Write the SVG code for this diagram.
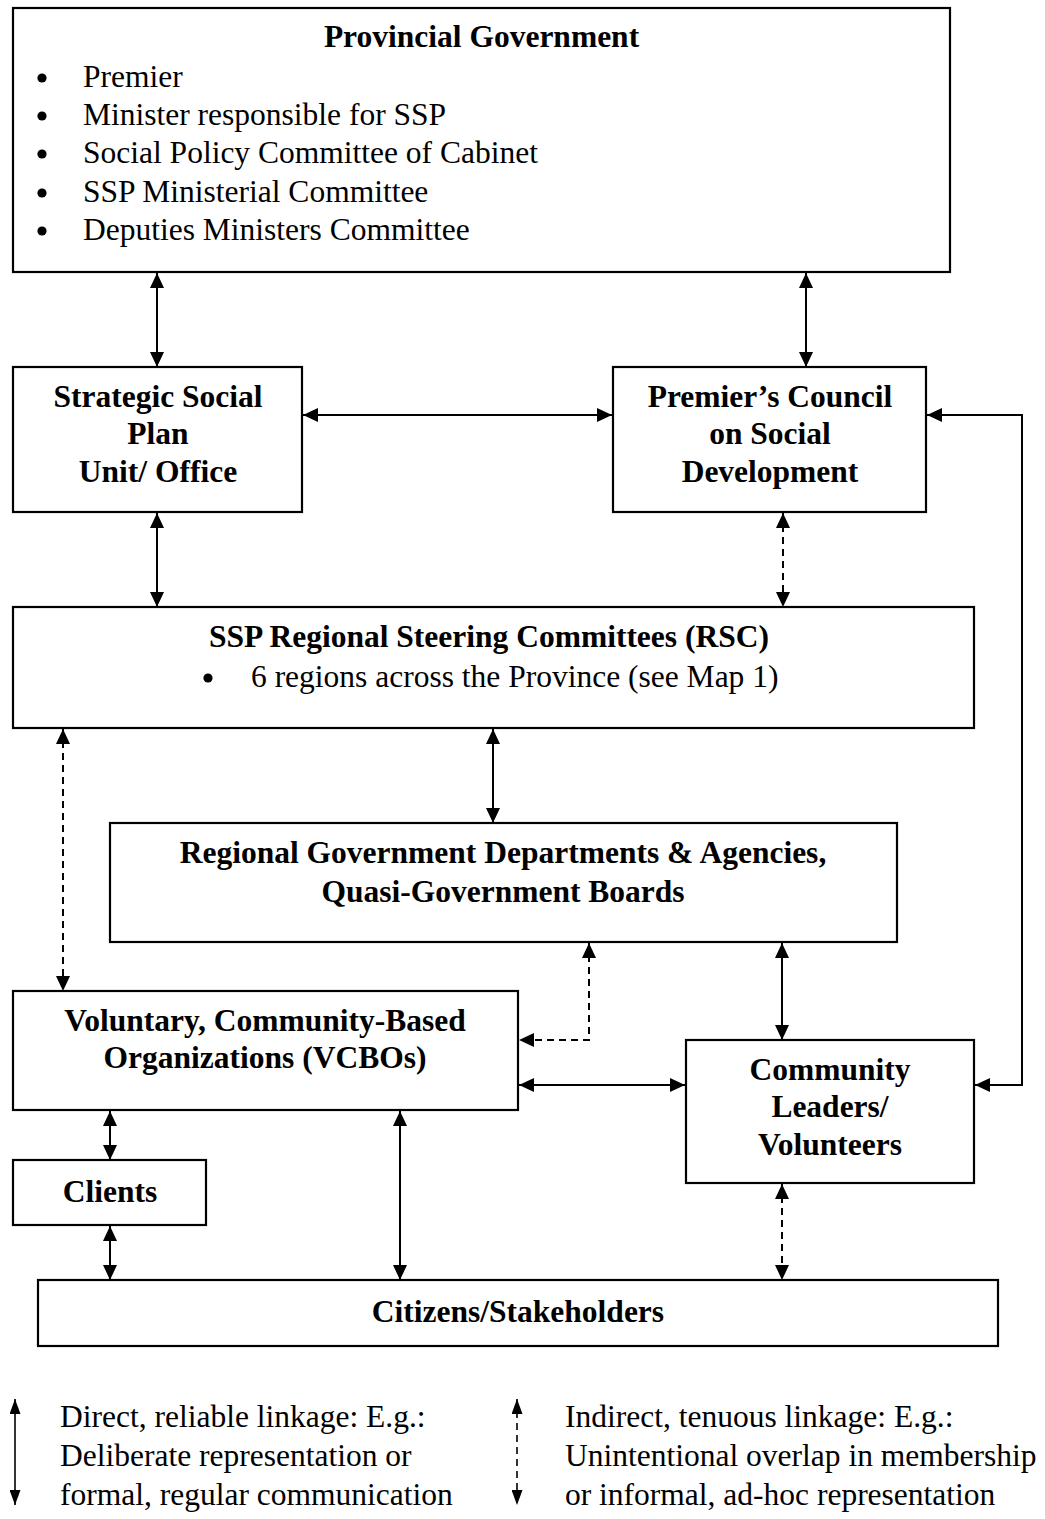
<svg xmlns="http://www.w3.org/2000/svg" width="1045" height="1519" viewBox="0 0 1045 1519">
<style>
.box{fill:#fff;stroke:#000;stroke-width:2.2}
.t{font-family:"Liberation Serif","Times New Roman",serif;font-size:31.5px;fill:#000}
.b{font-weight:bold;text-anchor:middle}
.ln{fill:none;stroke:#000;stroke-width:2;marker-start:url(#ah);marker-end:url(#ah)}
.dash{stroke-dasharray:7 5}
.lg{fill:none;stroke:#000;stroke-width:1.6;marker-start:url(#ahs);marker-end:url(#ahs)}
</style>
<defs>
<marker id="ah" viewBox="0 0 15 14" refX="15" refY="7" markerWidth="15" markerHeight="14" markerUnits="userSpaceOnUse" orient="auto-start-reverse">
<path d="M0,0 L15,7 L0,14 Z" fill="#000" stroke="none"/>
</marker>
<marker id="ahs" viewBox="0 0 15 11" refX="15" refY="5.5" markerWidth="15" markerHeight="11" markerUnits="userSpaceOnUse" orient="auto-start-reverse">
<path d="M0,0 L15,5.5 L0,11 Z" fill="#000" stroke="none"/>
</marker>
</defs>
<rect width="1045" height="1519" fill="#fff"/>

<g id="connectors">
<path class="ln" d="M157,273 V367"/>
<path class="ln" d="M806,273 V367"/>
<path class="ln" d="M303,415 H612"/>
<path class="ln" d="M927,415 H1022 V1085 H975"/>
<path class="ln" d="M157,513 V607"/>
<path class="ln dash" d="M783,513 V607"/>
<path class="ln dash" d="M63,729 V991"/>
<path class="ln" d="M493,729 V823"/>
<path class="ln dash" d="M589,943 V1040 H519"/>
<path class="ln" d="M782,943 V1040"/>
<path class="ln" d="M519,1085 H685"/>
<path class="ln" d="M110,1111 V1160"/>
<path class="ln" d="M110,1226 V1280"/>
<path class="ln" d="M400,1111 V1280"/>
<path class="ln dash" d="M782,1184 V1280"/>
</g>

<g id="provincial-government">
<rect class="box" x="13" y="8" width="937" height="264"/>
<text class="t b" x="481.5" y="47">Provincial Government</text>
<g fill="#000"><circle cx="42" cy="78" r="4.6"/><circle cx="42" cy="116" r="4.6"/><circle cx="42" cy="154" r="4.6"/><circle cx="42" cy="193" r="4.6"/><circle cx="42" cy="231" r="4.6"/></g>
<text class="t" x="83" y="87">Premier</text>
<text class="t" x="83" y="125">Minister responsible for SSP</text>
<text class="t" x="83" y="163">Social Policy Committee of Cabinet</text>
<text class="t" x="83" y="202">SSP Ministerial Committee</text>
<text class="t" x="83" y="240">Deputies Ministers Committee</text>
</g>

<g id="ssp-unit">
<rect class="box" x="13" y="367" width="289" height="145"/>
<text class="t b" x="158" y="407">Strategic Social</text>
<text class="t b" x="158" y="444">Plan</text>
<text class="t b" x="158" y="482">Unit/ Office</text>
</g>

<g id="premiers-council">
<rect class="box" x="613" y="367" width="313" height="145"/>
<text class="t b" x="770" y="407">Premier’s Council</text>
<text class="t b" x="770" y="444">on Social</text>
<text class="t b" x="770" y="482">Development</text>
</g>

<g id="rsc">
<rect class="box" x="13" y="607" width="961" height="121"/>
<text class="t b" x="489" y="647">SSP Regional Steering Committees (RSC)</text>
<circle cx="208" cy="678" r="4.6" fill="#000"/>
<text class="t" x="251" y="687">6 regions across the Province (see Map 1)</text>
</g>

<g id="regional-government">
<rect class="box" x="110" y="823" width="787" height="119"/>
<text class="t b" x="503" y="863">Regional Government Departments &amp; Agencies,</text>
<text class="t b" x="503" y="902">Quasi-Government Boards</text>
</g>

<g id="vcbo">
<rect class="box" x="13" y="991" width="505" height="119"/>
<text class="t b" x="265" y="1031">Voluntary, Community-Based</text>
<text class="t b" x="265" y="1068">Organizations (VCBOs)</text>
</g>

<g id="community-leaders">
<rect class="box" x="686" y="1040" width="288" height="143"/>
<text class="t b" x="830" y="1080">Community</text>
<text class="t b" x="830" y="1117">Leaders/</text>
<text class="t b" x="830" y="1155">Volunteers</text>
</g>

<g id="clients">
<rect class="box" x="13" y="1160" width="193" height="65"/>
<text class="t b" x="110" y="1202">Clients</text>
</g>

<g id="citizens">
<rect class="box" x="38" y="1280" width="960" height="66"/>
<text class="t b" x="518" y="1322">Citizens/Stakeholders</text>
</g>

<g id="legend">
<path class="lg" d="M15,1399 V1505"/>
<path class="lg dash" d="M517,1399 V1505"/>
<text class="t" x="60" y="1427">Direct, reliable linkage: E.g.:</text>
<text class="t" x="60" y="1466">Deliberate representation or</text>
<text class="t" x="60" y="1505">formal, regular communication</text>
<text class="t" x="565" y="1427">Indirect, tenuous linkage: E.g.:</text>
<text class="t" x="565" y="1466">Unintentional overlap in membership</text>
<text class="t" x="565" y="1505">or informal, ad-hoc representation</text>
</g>
</svg>
